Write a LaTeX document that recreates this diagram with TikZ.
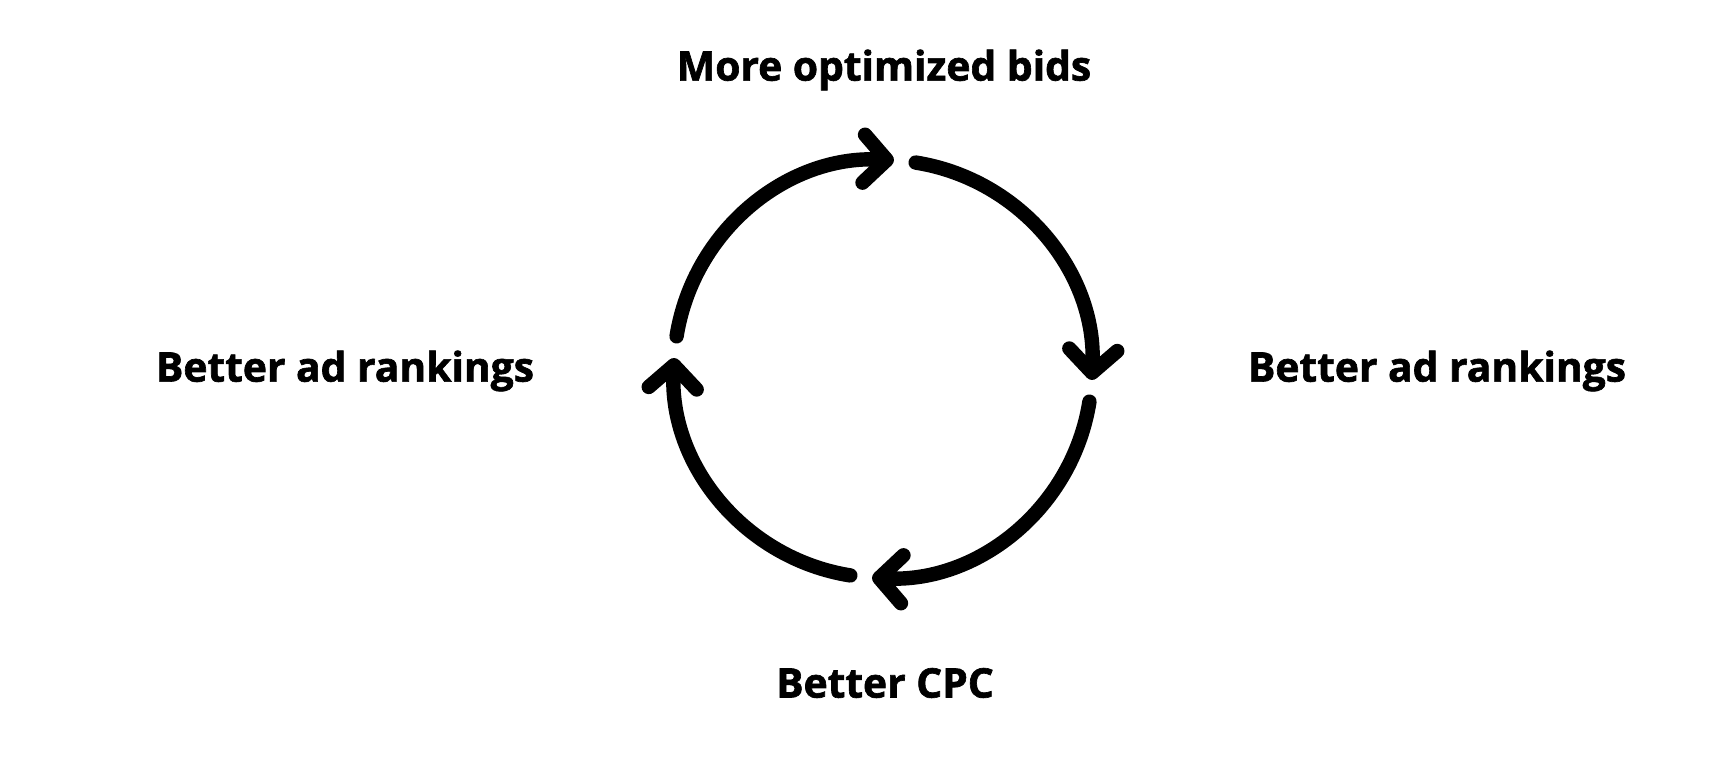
\documentclass[tikz,border=0pt]{standalone}
\usepackage{fontspec}
\setmainfont{Open Sans}[BoldFeatures={FakeBold=1.6}]
\usetikzlibrary{arrows.meta}

\tikzset{
    cycarrow/.style={line width=4.1pt, line cap=round,
        -{Straight Barb[length=2.3mm, width=4.8mm, line cap=round, line join=round]}},
    steplabel/.style={font=\fontsize{11.6}{13}\selectfont\bfseries, inner sep=0pt}
}

\begin{document}
\begin{tikzpicture}
            \useasboundingbox (0,0) rectangle (17.26,7.74);
            \coordinate (C) at (8.83,4.05);

            \draw[cycarrow] (C) ++(81:2.09) arc[start angle=81, end angle=-3, radius=2.09];
            \draw[cycarrow] (C) ++(-9:2.09) arc[start angle=-9, end angle=-93, radius=2.09];
            \draw[cycarrow] (C) ++(-99:2.09) arc[start angle=-99, end angle=-183, radius=2.09];
            \draw[cycarrow] (C) ++(171:2.09) arc[start angle=171, end angle=87, radius=2.09];

            \node[steplabel] (bids) at (8.84,7.04) {More optimized bids};
            \node[steplabel] (rankL) at (3.45,4.03) {Better ad rankings};
            \node[steplabel] (rankR) at (14.37,4.03) {Better ad rankings};
            \node[steplabel] (cpc) at (8.85,0.91) {Better CPC};
        \end{tikzpicture}
\end{document}
